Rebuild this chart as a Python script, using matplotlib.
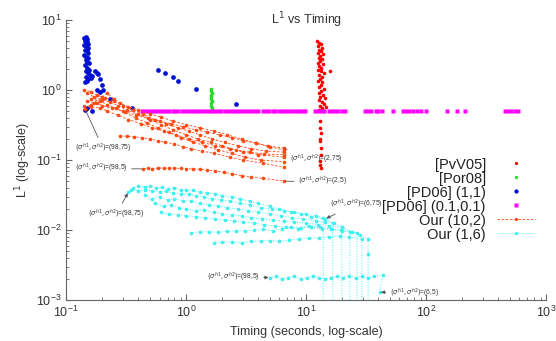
import matplotlib
matplotlib.use('Agg')
import matplotlib.pyplot as plt
import numpy as np

plt.rcParams['font.family'] = ['Liberation Sans', 'DejaVu Sans']

# [PvV05]
pvv_x = [12.4, 12.8, 13.2, 12.6, 13.5, 12.9, 13.3, 12.5, 13.8, 13.0, 12.7, 13.6, 13.1, 12.5, 13.9,
         12.9, 13.4, 12.6, 13.2, 14.0, 12.8, 13.5, 15.9, 13.0, 12.6, 13.7, 13.2, 12.9, 14.2, 13.4,
         12.7, 13.8, 13.1, 14.4, 12.8, 13.6, 14.1, 13.0, 14.6, 13.5, 12.9, 14.0,
         13.0, 13.1, 13.2, 13.0, 13.1, 13.3, 13.2, 13.0, 13.1, 13.2]
pvv_y = [5.0, 4.7, 4.5, 4.2, 4.0, 3.8, 3.6, 3.4, 3.3, 3.1, 2.9, 2.8, 2.6, 2.45, 2.35,
         2.2, 2.05, 1.95, 1.85, 1.75, 1.65, 1.55, 1.85, 1.45, 1.35, 1.3, 1.2, 1.12, 1.05, 0.98,
         0.92, 0.86, 0.8, 0.76, 0.72, 0.68, 0.64, 0.6, 0.58, 0.55, 0.52, 0.5,
         0.36, 0.29, 0.24, 0.2, 0.19, 0.15, 0.12, 0.097, 0.086, 0.077]

# [Por08]
por_x = [1.62, 1.63, 1.61, 1.62, 1.63, 1.62, 1.61, 1.62, 1.63, 1.62, 1.62]
por_y = [0.5, 0.55, 0.6, 0.65, 0.7, 0.75, 0.8, 0.85, 0.9, 0.97, 1.05]

# [PD06] (1,1)
pd1_x = [0.140, 0.145, 0.150, 0.143, 0.148, 0.152, 0.141, 0.146, 0.151, 0.144, 0.149, 0.153,
         0.142, 0.147, 0.152, 0.145, 0.150, 0.155, 0.143, 0.148, 0.154, 0.146, 0.151, 0.157,
         0.147, 0.153, 0.160, 0.165, 0.174, 0.181, 0.185, 0.192, 0.200, 0.181, 0.204, 0.232,
         0.144, 0.150, 0.165, 0.149, 0.144, 0.19, 0.355, 0.585, 0.67, 0.78, 0.86, 1.21, 2.61]
pd1_y = [5.6, 5.8, 5.4, 5.1, 4.9, 4.6, 4.4, 4.2, 4.0, 3.8, 3.6, 3.4,
         3.2, 3.0, 2.85, 2.7, 2.55, 2.4, 2.25, 2.1, 1.95, 1.85, 1.75, 1.65,
         1.55, 1.45, 1.5, 1.58, 1.85, 1.75, 1.7, 1.45, 1.2, 1.0, 0.99, 0.75,
         0.52, 0.55, 0.50, 1.35, 1.3, 0.94, 0.55, 1.93, 1.75, 1.53, 1.34, 1.03, 0.63]

# [PD06] (0.1,0.1)
pd01_x = [0.43, 0.45, 0.48, 0.51, 0.54, 0.57, 0.61, 0.64, 0.68, 0.72, 0.77, 0.81, 0.86, 0.92,
          0.97, 1.03, 1.09, 1.16, 1.23, 1.30, 1.38, 1.47, 1.56, 1.65, 1.75, 1.86, 1.97, 2.09,
          2.22, 2.35, 2.50, 2.65, 2.81, 2.98, 3.16, 3.36, 3.56, 3.78, 3.98,
          4.4, 4.65, 4.95, 5.25, 5.55, 5.9, 6.25, 6.65, 7.05, 7.45, 7.9, 8.4, 8.9, 9.4, 9.8,
          11.9, 12.6, 13.4, 14.2, 15.6, 16.5, 17.5, 18.5, 19.8, 21.0,
          31, 33, 35, 38, 40, 43, 53, 64, 68, 72, 78, 84, 90, 100, 150, 181, 211,
          455, 485, 515, 550, 584]
pd01_y = [0.5] * len(pd01_x)

# Our (10,2)
our10 = [
    ([0.144, 0.16, 0.18, 0.2, 0.24, 0.3, 0.38, 0.48, 0.6, 0.75, 0.95, 1.2, 1.5, 1.9, 2.4, 3.0, 3.8, 4.8, 6.5],
     [0.53, 0.62, 0.66, 0.6, 0.55, 0.5, 0.44, 0.4, 0.36, 0.33, 0.3, 0.27, 0.25, 0.23, 0.21, 0.19, 0.175, 0.16, 0.148]),
    ([0.15, 0.17, 0.2, 0.22, 0.25, 0.28, 0.33, 0.4, 0.5, 0.62, 0.78, 1.0, 1.3, 1.7, 2.2, 2.9, 3.8, 5.0, 6.5],
     [0.7, 0.66, 0.8, 0.9, 0.75, 0.65, 0.58, 0.52, 0.46, 0.41, 0.36, 0.32, 0.29, 0.26, 0.23, 0.2, 0.175, 0.155, 0.14]),
    ([0.14, 0.16, 0.18, 0.21, 0.25, 0.3, 0.36, 0.44, 0.55, 0.68, 0.85, 1.05, 1.3, 1.65, 2.1, 2.7, 3.5, 4.6, 6.5],
     [1.02, 0.95, 0.85, 0.78, 0.7, 0.6, 0.52, 0.45, 0.38, 0.33, 0.29, 0.26, 0.23, 0.2, 0.18, 0.16, 0.145, 0.135, 0.13]),
    ([0.15, 0.17, 0.2, 0.23, 0.27, 0.32, 0.4, 0.5, 0.62, 0.78, 1.0, 1.25, 1.6, 2.0, 2.6, 3.4, 4.5, 6.5],
     [0.9, 0.8, 0.72, 0.68, 0.6, 0.52, 0.45, 0.38, 0.32, 0.27, 0.23, 0.2, 0.18, 0.16, 0.14, 0.13, 0.122, 0.12]),
    ([0.14, 0.16, 0.19, 0.22, 0.27, 0.33, 0.42, 0.52, 0.65, 0.82, 1.05, 1.35, 1.75, 2.3, 3.0, 4.0, 6.5],
     [0.6, 0.58, 0.56, 0.5, 0.44, 0.38, 0.33, 0.29, 0.26, 0.23, 0.2, 0.18, 0.16, 0.145, 0.13, 0.12, 0.11]),
    ([0.16, 0.19, 0.22, 0.26, 0.31, 0.38, 0.47, 0.58, 0.72, 0.9, 1.15, 1.45, 1.85, 2.4, 3.1, 4.2, 6.5],
     [0.75, 0.7, 0.62, 0.55, 0.48, 0.4, 0.34, 0.29, 0.25, 0.21, 0.18, 0.16, 0.14, 0.125, 0.11, 0.1, 0.095]),
    ([0.28, 0.32, 0.37, 0.43, 0.5, 0.58, 0.67, 0.8, 0.95, 1.1, 1.35, 1.7, 2.3, 3.0, 4.4, 6.5],
     [0.22, 0.22, 0.215, 0.21, 0.2, 0.19, 0.18, 0.17, 0.155, 0.145, 0.135, 0.125, 0.11, 0.1, 0.09, 0.079]),
    ([0.44, 0.48, 0.52, 0.58, 0.65, 0.72, 0.8, 0.9, 1.0, 1.15, 1.3, 1.5, 1.75, 2.05, 2.4, 2.9, 3.5, 4.4, 6.5],
     [0.075, 0.076, 0.075, 0.077, 0.077, 0.076, 0.077, 0.076, 0.075, 0.075, 0.074, 0.072, 0.07, 0.067, 0.064, 0.06, 0.057, 0.055, 0.05]),
]

# Our (1,6)
our16 = [
    ([0.33, 0.36, 0.4, 0.45, 0.5, 0.56, 0.63, 0.7, 0.8, 0.9, 1.0, 1.15, 1.3, 1.5, 1.75, 2.0, 2.4, 2.8, 3.4, 4.0,
      5.0, 6.0, 7.5, 9.0, 11.0, 14.4, 17, 20, 24, 28, 32.9, 32.9, 32.9],
     [0.035, 0.04, 0.042, 0.041, 0.043, 0.04, 0.041, 0.039, 0.04, 0.038, 0.037, 0.037, 0.035, 0.034, 0.033, 0.031,
      0.03, 0.028, 0.026, 0.024, 0.022, 0.02, 0.018, 0.017, 0.0155, 0.0144, 0.0125, 0.011, 0.0095, 0.0085, 0.0075,
      0.0045, 0.0001]),
    ([0.35, 0.4, 0.45, 0.52, 0.6, 0.68, 0.78, 0.9, 1.05, 1.2, 1.4, 1.65, 1.95, 2.3, 2.8, 3.4, 4.2, 5.2, 6.5, 8.0,
      10, 12, 13.9, 13.9],
     [0.038, 0.036, 0.038, 0.036, 0.035, 0.036, 0.034, 0.033, 0.033, 0.031, 0.03, 0.028, 0.027, 0.026, 0.024,
      0.023, 0.021, 0.02, 0.019, 0.018, 0.017, 0.016, 0.015, 0.0001]),
    ([0.45, 0.52, 0.6, 0.7, 0.8, 0.95, 1.1, 1.3, 1.55, 1.85, 2.2, 2.7, 3.3, 4.0, 5.0, 6.2, 7.7, 9.5, 12, 14.5,
      16.7, 16.7],
     [0.032, 0.028, 0.03, 0.027, 0.028, 0.026, 0.026, 0.024, 0.023, 0.022, 0.021, 0.02, 0.019, 0.018, 0.017,
      0.016, 0.015, 0.0145, 0.0135, 0.013, 0.0125, 0.0001]),
    ([0.55, 0.65, 0.75, 0.88, 1.0, 1.2, 1.4, 1.7, 2.0, 2.4, 2.9, 3.5, 4.3, 5.3, 6.5, 8, 10, 12.5, 15.5, 19.9, 19.9],
     [0.024, 0.022, 0.023, 0.021, 0.02, 0.019, 0.0195, 0.018, 0.017, 0.0165, 0.016, 0.015, 0.0145, 0.014,
      0.0135, 0.013, 0.0125, 0.012, 0.0115, 0.011, 0.0001]),
    ([0.62, 0.72, 0.85, 1.0, 1.2, 1.45, 1.75, 2.1, 2.5, 3.0, 3.7, 4.5, 5.5, 6.8, 8.5, 10.5, 13, 16, 19.5, 23.2, 23.2],
     [0.018, 0.017, 0.0165, 0.016, 0.0155, 0.015, 0.0145, 0.014, 0.0135, 0.013, 0.0125, 0.012, 0.0115, 0.011,
      0.0105, 0.0115, 0.011, 0.0105, 0.01, 0.0095, 0.0001]),
    ([1.1, 1.3, 1.55, 1.85, 2.2, 2.6, 3.1, 3.7, 4.4, 5.3, 6.3, 7.5, 9, 11, 13.5, 16.5, 20, 26.6, 26.6],
     [0.0092, 0.0094, 0.0095, 0.0093, 0.0096, 0.0098, 0.0097, 0.01, 0.0102, 0.0098, 0.0105, 0.011, 0.0108,
      0.011, 0.0105, 0.0102, 0.0098, 0.0092, 0.0001]),
    ([1.7, 2.0, 2.4, 2.9, 3.5, 4.2, 5.0, 6.0, 7.2, 8.7, 10.5, 12.7, 15.5, 19, 23, 29.2, 29.2],
     [0.0065, 0.0067, 0.0068, 0.0066, 0.0069, 0.007, 0.0071, 0.0069, 0.0072, 0.0074, 0.0076, 0.0078, 0.008,
      0.0082, 0.0079, 0.0075, 0.0001]),
    ([5.0, 5.6, 6.3, 7.1, 8.0, 9.0, 10.1, 11.4, 12.8, 14.4, 16.2, 18.2, 20.5, 23, 26, 29.2, 33, 37, 43.8, 41],
     [0.0021, 0.0022, 0.002, 0.0021, 0.0022, 0.002, 0.0021, 0.0022, 0.0021, 0.002, 0.0021, 0.0022, 0.0021,
      0.0022, 0.0021, 0.0022, 0.0021, 0.0022, 0.0023, 0.0013]),
]

lab = r'$(\sigma^{h1},\sigma^{h2})$'
# (text, text x, text y, point x, point y, ha, arrow)
notes = [
    (lab + '=(98,75)', 0.118, 0.148, 0.144, 0.53, 'left', False),
    (lab + '=(98,5)', 0.118, 0.075, 0.44, 0.075, 'left', False),
    (lab + '=(2,75)', 7.4, 0.103, 6.5, 0.148, 'left', False),
    (lab + '=(2,5)', 8.6, 0.049, 6.5, 0.05, 'left', False),
    (lab + '=(98,75)', 0.153, 0.017, 0.33, 0.035, 'left', True),
    (lab + '=(6,75)', 15.8, 0.0235, 14.4, 0.0144, 'left', True),
    (lab + '=(98,5)', 4.1, 0.0021, 5.0, 0.0021, 'right', True),
    (lab + '=(6,5)', 50, 0.00126, 41, 0.0013, 'left', True),
]

orange = '#ff4a14'
cyan = '#3ff0f0'

fig = plt.figure(figsize=(5.56, 3.41), dpi=100)
ax = fig.add_axes([0.119, 0.12, 0.863, 0.821])

ax.plot(pvv_x, pvv_y, 'o', color='#ff0000', ms=2.6, mec='none', label='[PvV05]')
ax.plot(por_x, por_y, 'o', color='#22dd22', ms=2.6, mec='none', label='[Por08]')
ax.plot(pd1_x, pd1_y, 'o', color='#0010d0', ms=3.4, mec='none', label='[PD06] (1,1)')
ax.plot(pd01_x, pd01_y, 's', color='#ff00ff', ms=2.8, mec='none', label='[PD06] (0.1,0.1)')
for i, (xs, ys) in enumerate(our10):
    ax.plot(xs, ys, '--', color=orange, lw=0.6, dashes=(3, 2), marker='o', ms=2.6, mec='none',
            label='Our (10,2)' if i == 0 else None)
for i, (xs, ys) in enumerate(our16):
    ax.plot(xs, ys, ':', color=cyan, lw=0.7, marker='o', ms=2.6, mec='none',
            label='Our (1,6)' if i == 0 else None)

for txt, tx, ty, px, py, ha, arr in notes:
    ax.annotate(txt, xy=(px, py), xytext=(tx, ty), fontsize=4.8, color='#333333', ha=ha, va='center',
                arrowprops=dict(arrowstyle='-|>' if arr else '-', color='#555555', lw=0.6,
                                mutation_scale=5, shrinkA=1, shrinkB=1))

ax.set_xscale('log')
ax.set_yscale('log')
ax.set_xlim(0.1, 1000)
ax.set_ylim(0.001, 10)
ax.set_title(r'L$^1$ vs Timing', fontsize=9, color='#333333', y=0.955)
ax.set_xlabel('Timing (seconds, log-scale)', fontsize=9, color='#333333', labelpad=4)
ax.set_ylabel(r'L$^1$ (log-scale)', fontsize=9, color='#333333', labelpad=2)
ax.spines['top'].set_visible(False)
ax.spines['right'].set_visible(False)
for s in ('left', 'bottom'):
    ax.spines[s].set_color('#666666')
    ax.spines[s].set_linewidth(0.8)
ax.tick_params(which='both', direction='in', colors='#666666', labelcolor='#333333', labelsize=9)
ax.tick_params(which='major', length=4)
ax.tick_params(which='minor', length=2)

leg = ax.legend(loc='upper right', bbox_to_anchor=(0.99, 0.53), frameon=False, markerfirst=False,
                fontsize=10.5, handlelength=2.6, handletextpad=0.8, labelspacing=0.0,
                borderaxespad=0, markerscale=0.9)
for t in leg.get_texts():
    t.set_color('#222222')

fig.savefig('out.png', dpi=100)
